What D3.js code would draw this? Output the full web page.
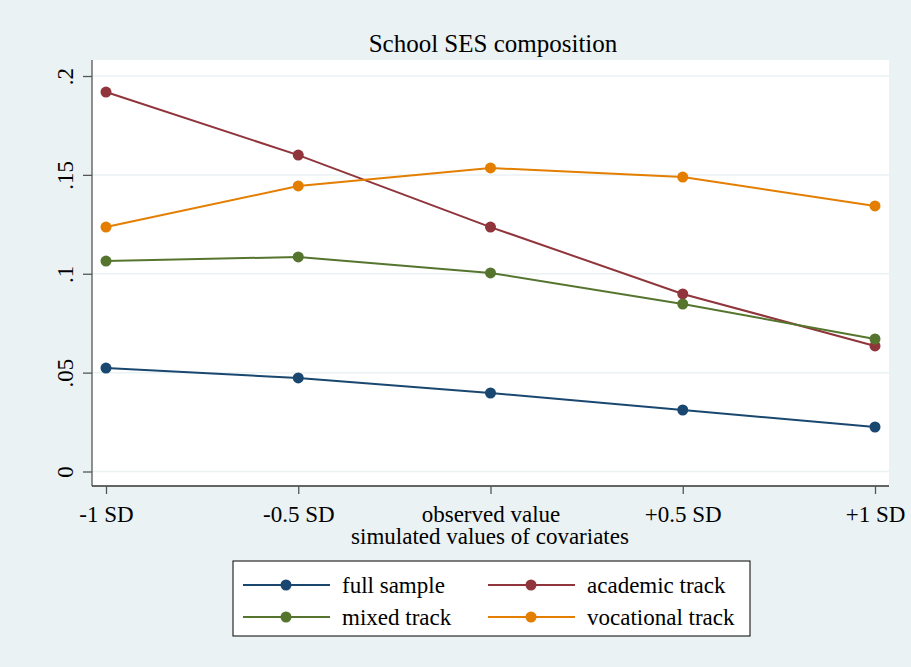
<!DOCTYPE html>
<html><head><meta charset="utf-8">
<script src="https://cdn.jsdelivr.net/npm/d3@7"></script>
<style>body{margin:0;background:#eaf2f3;} svg{display:block;font-family:"Liberation Serif","Times New Roman",serif;}</style>
</head><body><svg id="c" width="911" height="667"></svg>
<script>
const categories = ["-1 SD","-0.5 SD","observed value","+0.5 SD","+1 SD"];
const fullSample = [0.0523,0.0473,0.0397,0.0311,0.0225];
const academicTrack = [0.1919,0.1600,0.1236,0.0898,0.0635];
const mixedTrack = [0.1064,0.1085,0.1004,0.0847,0.0670];
const vocationalTrack = [0.1236,0.1444,0.1535,0.1489,0.1343];
const yTicks = [0,0.05,0.1,0.15,0.2];
const yTickLabels = ["0",".05",".1",".15",".2"];
const seriesNames = ["full sample","academic track","mixed track","vocational track"];
const seriesColors = ["#1a476f","#90353b","#55752f","#e37e00"];
const series = [fullSample, academicTrack, mixedTrack, vocationalTrack];

const svg = d3.select("#c");
svg.append("rect").attr("width",911).attr("height",667).attr("fill","#eaf2f3");
const L=92,R=889,T=60,B=486;
svg.append("rect").attr("x",L).attr("y",T).attr("width",R-L).attr("height",B-T).attr("fill","#fff");
const x = d3.scalePoint().domain(categories).range([106,875]);
const y = d3.scaleLinear().domain([0,0.2]).range([471.5,76]);

// grid
svg.append("g").selectAll("line").data(yTicks).join("line")
 .attr("x1",L).attr("x2",R).attr("y1",d=>y(d)).attr("y2",d=>y(d))
 .attr("stroke","#eaf2f3").attr("stroke-width",1.5);

// y axis
const ya = svg.append("g").attr("transform",`translate(${L},0)`)
 .call(d3.axisLeft(y).tickValues(yTicks).tickSize(9).tickPadding(0).tickFormat((d,i)=>yTickLabels[i]));
ya.select(".domain").attr("d",`M0,${T}V${B}`).attr("stroke","#555").attr("stroke-width",1.3);
ya.selectAll(".tick line").attr("stroke","#555").attr("stroke-width",1.3);
ya.selectAll(".tick text").attr("transform","rotate(-90)").attr("x",0).attr("y",-19)
 .attr("dy","0").attr("text-anchor","middle").attr("font-size",23).attr("fill","#000")
 .attr("font-family","Liberation Serif, serif");

// x axis
const xa = svg.append("g").attr("transform",`translate(0,${B})`)
 .call(d3.axisBottom(x).tickSize(8).tickPadding(8));
xa.select(".domain").attr("d",`M${L},0H${R}`).attr("stroke","#333").attr("stroke-width",1.3);
xa.selectAll(".tick line").attr("stroke","#555").attr("stroke-width",1.3);
xa.selectAll(".tick text").attr("dy",0).attr("y",36).attr("font-size",23).attr("fill","#000").attr("font-family","Liberation Serif, serif");

// title & axis title
svg.append("text").attr("x",493).attr("y",52).attr("text-anchor","middle").attr("font-size",25).text("School SES composition");
svg.append("text").attr("x",490).attr("y",544).attr("text-anchor","middle").attr("font-size",23).text("simulated values of covariates");

// lines
const line = d3.line().x((d,i)=>x(categories[i])).y(d=>y(d));
series.forEach((s,k)=>{
  svg.append("path").datum(s).attr("d",line).attr("fill","none").attr("stroke",seriesColors[k]).attr("stroke-width",2);
  svg.append("g").selectAll("circle").data(s).join("circle")
   .attr("cx",(d,i)=>x(categories[i])).attr("cy",d=>y(d)).attr("r",5.5).attr("fill",seriesColors[k]);
});

// legend
const lg = svg.append("g");
lg.append("rect").attr("x",233).attr("y",561).attr("width",517).attr("height",75).attr("fill","#fff").attr("stroke","#000").attr("stroke-width",1);
const pos = [[243,585],[488,585],[243,617],[488,617]];
seriesNames.forEach((n,k)=>{
  const [px,py]=pos[k];
  lg.append("line").attr("x1",px).attr("x2",px+87).attr("y1",py).attr("y2",py).attr("stroke",seriesColors[k]).attr("stroke-width",2);
  lg.append("circle").attr("cx",px+43).attr("cy",py).attr("r",5.5).attr("fill",seriesColors[k]);
  lg.append("text").attr("x",px+99).attr("y",py+8).attr("font-size",23).text(n);
});
</script></body></html>
